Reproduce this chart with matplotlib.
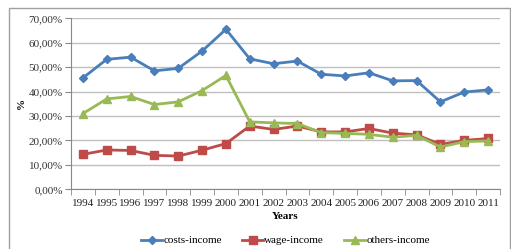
import matplotlib.pyplot as plt
import numpy as np
from matplotlib.patches import Rectangle
from matplotlib.ticker import FuncFormatter, FixedLocator

years = ['1994', '1995', '1996', '1997', '1998', '1999', '2000', '2001', '2002',
         '2003', '2004', '2005', '2006', '2007', '2008', '2009', '2010', '2011']
costs_income = [45.6, 53.2, 54.1, 48.5, 49.5, 56.6, 65.5, 53.4, 51.4,
                52.5, 47.1, 46.4, 47.7, 44.4, 44.5, 35.8, 39.8, 40.7]
wage_income = [14.3, 16.1, 15.9, 13.9, 13.6, 16.0, 18.7, 25.9, 24.5,
               25.9, 23.5, 23.5, 24.9, 23.0, 22.3, 18.4, 20.0, 20.8]
others_income = [31.0, 37.0, 38.0, 34.7, 35.8, 40.4, 46.6, 27.6, 27.2,
                 26.9, 23.2, 22.9, 22.5, 21.3, 22.1, 17.3, 19.5, 19.8]

plt.rcParams['font.family'] = ['Liberation Serif', 'DejaVu Serif']

fig = plt.figure(figsize=(5.11, 2.49), dpi=100)
# outer chart frame
fig.patches.append(Rectangle((9 / 511, -0.02), 501 / 511, 1 - 8 / 249 + 0.02,
                             transform=fig.transFigure, fill=False,
                             edgecolor='#a0a0a0', linewidth=1.0))

ax = fig.add_axes([71 / 511, 1 - 189.3 / 249, 429 / 511, 171 / 249])
x = np.arange(len(years))

ax.plot(x, costs_income, color='#4a7ebb', marker='D', markersize=4.5, linewidth=2,
        label='costs-income')
ax.plot(x, wage_income, color='#be4b48', marker='s', markersize=5.5, linewidth=2,
        label='wage-income')
ax.plot(x, others_income, color='#98b954', marker='^', markersize=6, linewidth=2,
        label='others-income')

ax.set_xlim(-0.5, len(years) - 0.5)
ax.set_ylim(0, 70)
ax.set_yticks(np.arange(0, 71, 10))
ax.yaxis.set_major_formatter(FuncFormatter(lambda v, p: f'{v:.2f}%'.replace('.', ',')))
ax.set_xticks(x)
ax.set_xticklabels(years)
ax.xaxis.set_minor_locator(FixedLocator(np.arange(-0.5, len(years), 1)))
ax.tick_params(axis='x', which='major', length=0, pad=7, labelsize=8, colors='#222222')
ax.tick_params(axis='x', which='minor', length=4, color='#888888', direction='out')
ax.tick_params(axis='y', length=4, color='#888888', labelsize=8, colors='#333333', pad=2)

ax.grid(axis='y', color='#bfbfbf', linewidth=1.0)
ax.set_axisbelow(True)
for side in ['top', 'right']:
    ax.spines[side].set_visible(False)
ax.spines['left'].set_color('#888888')
ax.spines['bottom'].set_color('#888888')

ax.set_xlabel('Years', fontweight='bold', fontsize=8, labelpad=3)
ax.set_ylabel('%', fontweight='bold', fontsize=8, labelpad=2)

ax.legend(loc='center', bbox_to_anchor=(0.5, -0.3), ncol=3, frameon=False,
          fontsize=8, handlelength=1.9, columnspacing=1.8, handletextpad=0.1)

plt.savefig('out.png', dpi=100)
